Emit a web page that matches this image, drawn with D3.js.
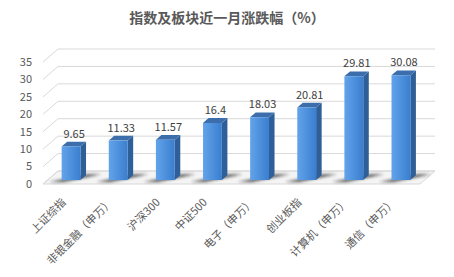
<!DOCTYPE html>
<html>
<head>
<meta charset="utf-8">
<script src="https://cdn.jsdelivr.net/npm/d3@7"></script>
<style>
  body { margin: 0; background: #fff; }
  text { font-family: "Noto Sans CJK SC", "Noto Sans", sans-serif; }
</style>
</head>
<body>
<svg></svg>
<script>
let categories = ['上证综指', '非银金融（申万）', '沪深300', '中证500', '电子（申万）', '创业板指', '计算机（申万）', '通信（申万）']
let values = [9.65, 11.33, 11.57, 16.4, 18.03, 20.81, 29.81, 30.08]
let labels = ['9.65', '11.33', '11.57', '16.4', '18.03', '20.81', '29.81', '30.08']
let yTicks = [0, 5, 10, 15, 20, 25, 30, 35]

let width = 454
let height = 277
let left = 43
let right = 420
// depth offset of the back wall
let depthX = 15
let depthY = -13
let t0 = 0.3
let t1 = 0.67

let svg = d3.select('svg')
    .attr('width', width)
    .attr('height', height)

let xScale = d3.scaleBand()
    .domain(categories)
    .range([left, right])
    .paddingInner(0.6)
    .paddingOuter(0.3)

let yScale = d3.scaleLinear()
    .domain([0, 35])
    .range([184, 62])

let p = (x, v, t) => [x + depthX * t, yScale(v) + depthY * t]
let pts = (arr) => arr.map(a => a.join(',')).join(' ')

let defs = svg.append('defs')
let grad = defs.append('linearGradient').attr('id', 'front')
    .attr('x1', 0).attr('x2', 1).attr('y1', 0).attr('y2', 0)
grad.append('stop').attr('offset', 0).attr('stop-color', '#62a3ea')
grad.append('stop').attr('offset', 1).attr('stop-color', '#3a7ecf')
defs.append('filter').attr('id', 'blur')
    .attr('x', -0.5).attr('y', -1).attr('width', 2).attr('height', 3)
    .append('feGaussianBlur').attr('stdDeviation', 1.5)

// title
svg.append('text')
    .attr('x', 227)
    .attr('y', 23)
    .attr('text-anchor', 'middle')
    .attr('font-size', 14)
    .attr('font-weight', 'bold')
    .attr('fill', '#595959')
    .text('指数及板块近一月涨跌幅（%）')

// floor
svg.append('polygon')
    .attr('points', pts([p(left, 0, 0), p(right, 0, 0), p(right, 0, 1), p(left, 0, 1)]))
    .attr('fill', '#f4f4f4')
    .attr('stroke', '#d9d9d9')
    .attr('stroke-width', 1)

// gridlines: side wall diagonal + back wall horizontal
yTicks.forEach(v => {
    let a = p(left, v, 0)
    let b = p(left, v, 1)
    let c = p(right, v, 1)
    svg.append('polyline')
        .attr('points', pts([a, b, c]))
        .attr('fill', 'none')
        .attr('stroke', '#d9d9d9')
        .attr('stroke-width', 1)
})

// y labels
svg.selectAll('.ylab')
    .data(yTicks)
    .enter()
    .append('text')
    .attr('class', 'ylab')
    .attr('x', 32)
    .attr('y', v => yScale(v))
    .attr('dy', '0.35em')
    .attr('text-anchor', 'end')
    .attr('font-size', 11)
    .attr('fill', '#595959')
    .text(v => v)

let bw = xScale.bandwidth()

// shadows on floor
categories.forEach((c, i) => {
    let x = xScale(c)
    let s = [p(x - 10, 0, 0.15), p(x + 4, 0, 0.15), p(x + bw + 14, 0, 0.75), p(x + bw + 1, 0, 0.75)]
    svg.append('polygon')
        .attr('points', pts(s))
        .attr('fill', '#222')
        .attr('opacity', 0.8)
        .attr('filter', 'url(#blur)')
})

// bars
let bars = svg.selectAll('.bar')
    .data(values)
    .enter()
    .append('g')
    .attr('class', 'bar')

bars.append('polygon')
    .attr('points', (v, i) => {
        let x = xScale(categories[i])
        return pts([p(x + bw, 0, t0), p(x + bw, 0, t1), p(x + bw, v, t1), p(x + bw, v, t0)])
    })
    .attr('fill', '#2f5f98')

bars.append('polygon')
    .attr('points', (v, i) => {
        let x = xScale(categories[i])
        return pts([p(x, v, t0), p(x + bw, v, t0), p(x + bw, v, t1), p(x, v, t1)])
    })
    .attr('fill', '#3b6eab')

bars.append('polygon')
    .attr('points', (v, i) => {
        let x = xScale(categories[i])
        return pts([p(x, 0, t0), p(x + bw, 0, t0), p(x + bw, v, t0), p(x, v, t0)])
    })
    .attr('fill', 'url(#front)')

// value labels
bars.append('text')
    .attr('x', (v, i) => p(xScale(categories[i]) + bw / 2, v, 0.5)[0])
    .attr('y', (v, i) => p(0, v, t1)[1] - 4)
    .attr('text-anchor', 'middle')
    .attr('font-size', 11)
    .attr('fill', '#404040')
    .text((v, i) => labels[i])

// category labels
svg.selectAll('.xlab')
    .data(categories)
    .enter()
    .append('text')
    .attr('class', 'xlab')
    .attr('text-anchor', 'end')
    .attr('font-size', 11)
    .attr('fill', '#595959')
    .attr('transform', c => 'translate(' + (xScale(c) + bw / 2) + ',203) rotate(-45)')
    .text(c => c)
</script>
</body>
</html>
